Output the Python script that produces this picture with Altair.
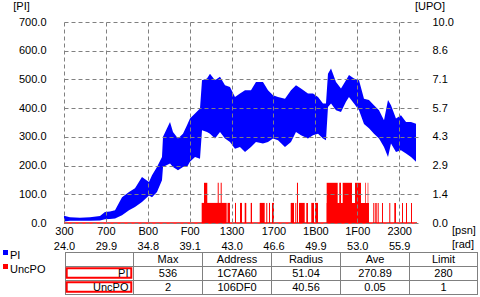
import json
import altair as alt
import pandas as pd

FONT = "Liberation Sans"

# ---------------- data ----------------
# PI envelope (address in 0x100-sector units, upper / lower value)
pi_addr = [768, 915, 1159, 1403, 1648, 1770, 1892, 2015, 2186, 2357, 2503, 2674, 2845, 2919,
           3041, 3163, 3188, 3359, 3432, 3554, 3676, 3774, 3847, 3970, 4092, 4141, 4263, 4336,
           4458, 4581, 4703, 4825, 4947, 5069, 5192, 5338, 5460, 5631, 5754, 5876, 5998, 6169,
           6316, 6438, 6560, 6731, 6854, 6976, 7098, 7171, 7220, 7294, 7416, 7538, 7660, 7733,
           7856, 7978, 8100, 8222, 8344, 8467, 8589, 8687, 8760, 8882, 9004, 9127, 9249, 9371]
pi_hi = [25, 20, 18, 20, 24, 38, 40, 44, 90, 108, 121, 160, 143, 166,
         195, 230, 300, 352, 317, 294, 311, 340, 364, 381, 399, 497, 503, 520,
         497, 509, 480, 474, 439, 451, 462, 462, 491, 491, 462, 445, 439, 433,
         462, 480, 468, 451, 451, 439, 416, 416, 520, 538, 491, 468, 497, 515,
         503, 497, 433, 428, 410, 393, 358, 428, 410, 364, 375, 352, 352, 346]
pi_lo = [5, 8, 8, 8, 9, 13, 14, 16, 27, 44, 56, 73, 96, 90,
         108, 149, 195, 207, 195, 184, 195, 195, 213, 230, 224, 323, 317, 311,
         294, 317, 294, 282, 259, 265, 247, 265, 282, 277, 282, 294, 288, 265,
         282, 317, 306, 294, 306, 311, 294, 288, 404, 416, 393, 387, 422, 439,
         416, 393, 345, 330, 311, 294, 265, 230, 277, 247, 253, 242, 230, 213]

# UncPO runs: start address, end address, value
upo_start = [4133, 4764, 4947, 5069, 5184, 5331, 5551, 5712, 5778, 5852, 6309, 6421, 6511,
             6690, 6812, 6902, 7188, 8327, 8376, 8434, 8540, 8718, 8841, 9029, 9127, 9249,
             4190, 4525, 4598, 6462, 7188, 7496, 7579, 7880, 8132, 8190]
upo_end = [4744, 4825, 4972, 5118, 5223, 5363, 5673, 5736, 5803, 5901, 6389, 6445, 6651,
           6731, 6878, 6976, 8222, 8352, 8410, 8459, 8564, 8743, 8882, 9053, 9151, 9273,
           4270, 4549, 4622, 6487, 7457, 7538, 7807, 8027, 8149, 8205]
upo_val = [1] * 26 + [2] * 10
upo_base = {"s": 768, "e": 9395, "v": 0}

x_ticks = [768, 1792, 2816, 3840, 4864, 5888, 6912, 7936, 8960]
x_hex = ["300", "700", "B00", "F00", "1300", "1700", "1B00", "1F00", "2300"]
x_rad = ["24.0", "29.9", "34.8", "39.1", "43.0", "46.6", "49.9", "53.0", "55.9"]
pi_ticks = [0, 100, 200, 300, 400, 500, 600, 700]
upo_ticks = [round(k * 10 / 7, 6) for k in range(8)]

series_names = ["PI", "UncPO"]
series_colors = ["#0000FF", "#FF0000"]
table_header = ["", "Max", "Address", "Radius", "Ave", "Limit"]
table_rows = [
    ["PI", "536", "1C7A60", "51.04", "270.89", "280"],
    ["UncPO", "2", "106DF0", "40.56", "0.05", "1"],
]

# ---------------- layout ----------------
PL, PT = 64, 22
W, H = 354, 201
GRID = "#808080"


def ax(x):
    return x - PL


def ay(y):
    return y - PT


def one():
    return alt.Data(values=[{}])


def text(s, x, y, align="center", baseline="middle", color="black", size=11):
    return alt.Chart(one()).mark_text(
        text=s, align=align, baseline=baseline, font=FONT, fontSize=size, color=color
    ).encode(x=alt.value(ax(x)), y=alt.value(ay(y)))


def hline(x1, x2, y, color=GRID, w=1):
    return alt.Chart(one()).mark_rule(color=color, strokeWidth=w).encode(
        x=alt.value(ax(x1)), x2=alt.value(ax(x2)), y=alt.value(ay(y)), y2=alt.value(ay(y)))


def vline(x, y1, y2, color=GRID, w=1):
    return alt.Chart(one()).mark_rule(color=color, strokeWidth=w).encode(
        x=alt.value(ax(x)), x2=alt.value(ax(x)), y=alt.value(ay(y1)), y2=alt.value(ay(y2)))


def box(x1, y1, x2, y2, fill=None, stroke=None, sw=1):
    kw = {}
    if fill is not None:
        kw["fill"] = fill
    else:
        kw["fillOpacity"] = 0
    if stroke is not None:
        kw["stroke"] = stroke
        kw["strokeWidth"] = sw
    return alt.Chart(one()).mark_rect(**kw).encode(
        x=alt.value(ax(x1)), x2=alt.value(ax(x2)), y=alt.value(ay(y1)), y2=alt.value(ay(y2)))


idx = f"indexof({json.dumps(x_ticks)}, datum.value)"
label_expr = f"[{json.dumps(x_hex)}[{idx}], {json.dumps(x_rad)}[{idx}]]"

xscale = alt.Scale(domain=[768, 9420], nice=False, zero=False)
xaxis = alt.Axis(values=x_ticks, labelExpr=label_expr, title=None, grid=True,
                 gridDash=[4, 3], gridColor=GRID, gridOpacity=1, domain=False, ticks=False,
                 tickSize=0, labelFont=FONT, labelFontSize=11, labelColor="black",
                 labelPadding=2, labelBaseline="top", labelLineHeight=15,
                 labelOverlap=False, labelFlush=False, zindex=1)
yaxisL = alt.Axis(values=pi_ticks, format=".1f", title=None, grid=True, gridDash=[4, 3],
                  gridColor=GRID, gridOpacity=1, domain=False, ticks=False, tickSize=0,
                  labelFont=FONT, labelFontSize=11, labelColor="black", labelPadding=18,
                  labelOverlap=False, zindex=1)
yaxisR = alt.Axis(orient="right", values=upo_ticks, format=".1f", title=None, grid=False,
                  domain=False, ticks=False, tickSize=0, labelFont=FONT, labelFontSize=11,
                  labelColor="black", labelPadding=14, labelOverlap=False, zindex=1)

pi_df = pd.DataFrame({"addr": pi_addr, "hi": pi_hi, "lo": pi_lo})
upo_df = pd.DataFrame({"s": upo_start, "e": upo_end, "v": upo_val})

area = alt.Chart(pi_df).mark_area(color=series_colors[0], interpolate="linear", opacity=1).encode(
    x=alt.X("addr:Q", scale=xscale, axis=xaxis),
    y=alt.Y("hi:Q", scale=alt.Scale(domain=[0, 700], nice=False, zero=True), axis=yaxisL),
    y2="lo:Q",
)

upo_y = alt.Scale(domain=[0, 10], nice=False, zero=True)
rects = alt.Chart(upo_df).mark_rect(color=series_colors[1]).encode(
    x=alt.X("s:Q", scale=xscale, axis=xaxis),
    x2="e:Q",
    y=alt.Y("v:Q", scale=upo_y, axis=yaxisR),
    y2=alt.datum(0),
)
base = alt.Chart(alt.Data(values=[upo_base])).mark_rule(color=series_colors[1], strokeWidth=1.5).encode(
    x=alt.X("s:Q", scale=xscale, axis=xaxis),
    x2="e:Q",
    y=alt.Y("v:Q", scale=upo_y, axis=yaxisR),
)
upo_layer = alt.layer(rects, base)

extras = []
# axis unit labels
extras.append(text("[PI]", 21.5, 7))
extras.append(text("[UPO]", 430, 7))
extras.append(text("[psn]", 452, 230.5, align="left"))
extras.append(text("[rad]", 452, 244.5, align="left"))

# legend
leg_y = [250, 264]
for name, col, y0 in zip(series_names, series_colors, leg_y):
    extras.append(box(3, y0, 8, y0 + 5, fill=col))
    extras.append(text(name, 10, y0 + 6, align="left"))

# table
col_x = [65.5, 133.5, 202.5, 271.5, 340.5, 409.5, 477.5]
row_y = [252.5, 266.5, 280.5, 294.5]
for y in row_y:
    extras.append(hline(65, 478, y))
for x in col_x:
    extras.append(vline(x, 252, 295))
for j, h in enumerate(table_header):
    if h:
        extras.append(text(h, (col_x[j] + col_x[j + 1]) / 2, 259.5))
for i, row in enumerate(table_rows):
    yc = (row_y[i + 1] + row_y[i + 2]) / 2
    extras.append(box(66.7, row_y[i + 1] + 1.8, 131.3, row_y[i + 2] - 2.8, stroke="#FF0000", sw=2))
    extras.append(text(row[0], 128.5, yc, align="right"))
    for j in range(1, 6):
        extras.append(text(row[j], (col_x[j] + col_x[j + 1]) / 2, yc))

chart = alt.layer(area, upo_layer, *extras).resolve_scale(y="independent").properties(
    width=W, height=H,
    autosize=alt.AutoSizeParams(type="none"),
    padding={"left": PL, "top": PT, "right": 480 - PL - W, "bottom": 297 - PT - H},
    background="white",
).configure_view(stroke=None)

chart.save("out.html", embed_options={"renderer": "svg", "actions": False})
